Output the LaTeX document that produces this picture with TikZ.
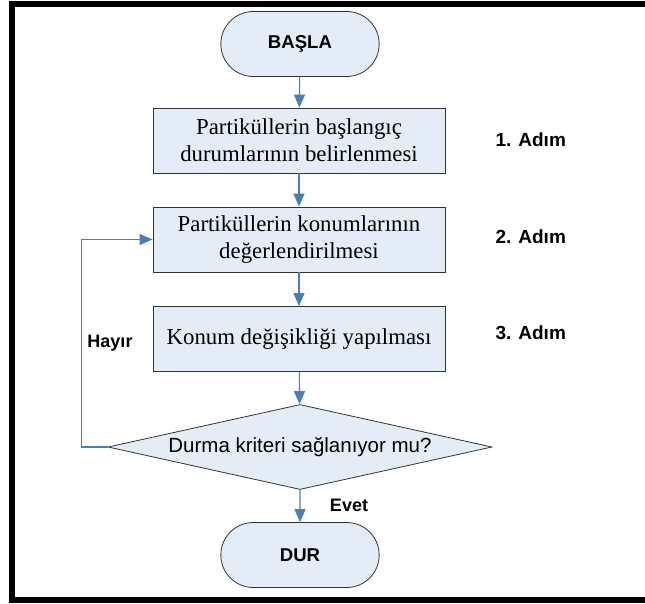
\documentclass[tikz,border=0pt]{standalone}
\usepackage{fontspec}
\setmainfont{Liberation Serif}
\setsansfont{Liberation Sans}
\usetikzlibrary{arrows.meta,positioning,shapes.geometric,shapes.misc}
\definecolor{fboxfill}{HTML}{E4ECF7}
\definecolor{fline}{HTML}{4A7EBB}
\definecolor{fedge}{HTML}{333333}

\begin{document}
\begin{tikzpicture}[x=1pt,y=-1pt,
  every node/.style={font=\sffamily\bfseries\fontsize{18}{21}\selectfont},
  term/.style={rounded rectangle,draw=fedge,fill=fboxfill,line width=0.8pt,
    minimum width=165pt,minimum height=65pt,
    font=\sffamily\bfseries\fontsize{18.6}{22}\selectfont},
  proc/.style={rectangle,draw=fedge,fill=fboxfill,line width=0.8pt,
    minimum width=292pt,minimum height=65pt,align=center,
    font=\rmfamily\fontsize{22.8}{27}\selectfont},
  dec/.style={diamond,draw=fedge,fill=fboxfill,line width=0.8pt,aspect=4.5,
    inner sep=0pt,minimum width=384pt,minimum height=85pt,
    font=\sffamily\fontsize{20.5}{24}\selectfont},
  flow/.style={-{Triangle[length=13pt,width=11pt]},fline,line width=1.1pt}]
  \useasboundingbox (0,0) rectangle (645,603);
  \clip (0,0) rectangle (645,603);
  \draw[line width=6pt] (12,4) rectangle (700,600);

  % steps
  \node[term] (start) at (300,44) {BAŞLA};
  \node[proc] (init) at (299,140.5) {Partiküllerin başlangıç\\durumlarının belirlenmesi};
  \node[proc] (eval) at (299,239.5) {Partiküllerin konumlarının\\değerlendirilmesi};
  \node[proc] (move) at (299,339) {Konum değişikliği yapılması};
  \node[dec] (check) at (300,447) {Durma kriteri sağlanıyor mu?};
  \node[term] (stop) at (300,555) {DUR};

  \draw[flow] (start) -- (init);
  \draw[flow] (init) -- (eval);
  \draw[flow] (eval) -- (move);
  \draw[flow] (move) -- (check);
  \draw[flow] (check) -- (stop);
  \draw[flow] (check.west) -- ++(-26,0) |- (eval.west);

  \node (yes) at (349,505) {Evet};
  \node (no) at (110,343) {Hayır};

  % step labels
  \node[anchor=west,font=\sffamily\bfseries\fontsize{19}{22}\selectfont] (s1) at (492,140) {1. Adım};
  \node[anchor=west,font=\sffamily\bfseries\fontsize{19}{22}\selectfont] (s2) at (492,237) {2. Adım};
  \node[anchor=west,font=\sffamily\bfseries\fontsize{19}{22}\selectfont] (s3) at (492,333) {3. Adım};
\end{tikzpicture}
\end{document}
